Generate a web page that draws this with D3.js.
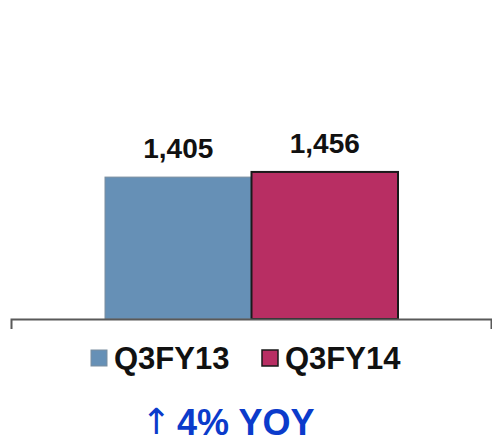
<!DOCTYPE html>
<html>
<head>
<meta charset="utf-8">
<script src="https://cdn.jsdelivr.net/npm/d3@7"></script>
<style>
  html, body { margin: 0; padding: 0; background: #ffffff; }
  svg { display: block; }
  text { font-family: "Liberation Sans", Arial, sans-serif; }
</style>
</head>
<body>
<svg id="chart" width="492" height="442"></svg>
<script>
const series = ["Q3FY13", "Q3FY14"];
const values = [1405, 1456];
const colors = ["#6690B6", "#B82E63"];
const strokes = ["#7A8E9F", "#1a1a1a"];
const categories = [""];
const yoyLabel = "4% YOY";

const svg = d3.select("#chart");

const y = d3.scaleLinear().domain([0, 3000]).range([319, 16]);
const xAxisScale = d3.scaleBand().domain(categories).range([11, 491]);
const x = d3.scaleBand().domain(series).range([105, 398]).padding(0);

// bars
svg.selectAll("rect.bar").data(series).enter().append("rect")
  .attr("class", "bar")
  .attr("x", d => x(d))
  .attr("y", (d, i) => y(values[i]))
  .attr("width", x.bandwidth())
  .attr("height", (d, i) => y(0) - y(values[i]))
  .attr("fill", (d, i) => colors[i])
  .attr("stroke", (d, i) => strokes[i])
  .attr("stroke-width", (d, i) => i === 1 ? 2 : 1);

// value labels
svg.selectAll("text.val").data(series).enter().append("text")
  .attr("class", "val")
  .attr("x", d => x(d) + x.bandwidth() / 2)
  .attr("y", (d, i) => y(values[i]) - 19)
  .attr("text-anchor", "middle")
  .attr("font-size", 28)
  .attr("font-weight", "bold")
  .attr("fill", "#111")
  .text((d, i) => d3.format(",")(values[i]));

// axis
const axis = svg.append("g")
  .attr("transform", "translate(0,319)")
  .call(d3.axisBottom(xAxisScale).tickSizeInner(0).tickSizeOuter(10).tickFormat(""));
axis.select(".domain").attr("stroke", "#595959").attr("stroke-width", 2);
axis.selectAll(".tick").remove();

// legend
const legendX = [91, 262];
const lg = svg.selectAll("g.leg").data(series).enter().append("g")
  .attr("class", "leg")
  .attr("transform", (d, i) => `translate(${legendX[i]},350)`);
lg.append("rect")
  .attr("width", 16).attr("height", 16)
  .attr("fill", (d, i) => colors[i])
  .attr("stroke", (d, i) => i === 1 ? "#1a1a1a" : "#7A8E9F")
  .attr("stroke-width", (d, i) => i === 1 ? 1.5 : 1);
lg.append("text")
  .attr("x", 23).attr("y", 19)
  .attr("font-size", 31)
  .attr("font-weight", "bold")
  .attr("fill", "#111")
  .text(d => d);

// YOY
svg.append("text")
  .attr("x", 141).attr("y", 434)
  .attr("fill", "#0B3BCB")
  .attr("font-size", 36)
  .style("font-family", "'DejaVu Sans'")
  .text("↑");
svg.append("text")
  .attr("x", 177).attr("y", 435)
  .attr("fill", "#0B3BCB")
  .attr("font-size", 36)
  .attr("font-weight", "bold")
  .text(yoyLabel);
</script>
</body>
</html>
